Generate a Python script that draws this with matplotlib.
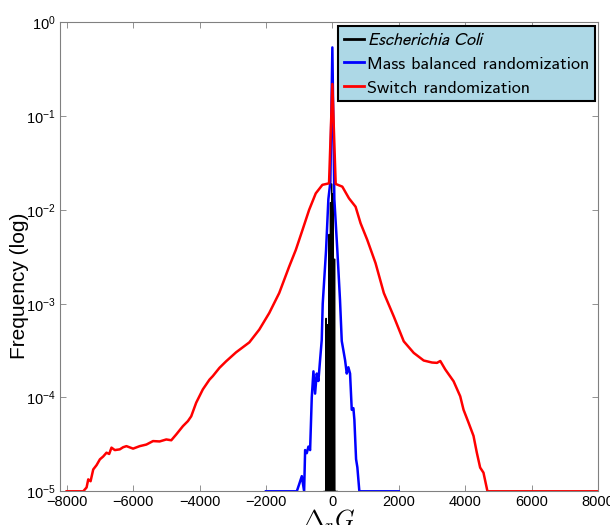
import numpy as np
import matplotlib
matplotlib.use("Agg")
import matplotlib.pyplot as plt
from matplotlib.ticker import LogLocator, NullLocator

plt.rcParams['font.family'] = ['Liberation Sans', 'DejaVu Sans']
plt.rcParams['mathtext.fontset'] = 'custom'
plt.rcParams['mathtext.rm'] = 'Liberation Sans'
plt.rcParams['mathtext.it'] = 'Liberation Sans:italic'
plt.rcParams['axes.unicode_minus'] = True

# ---------------------------------------------------
# DATA
# ---------------------------------------------------

# Switch randomization (red)
switch_x = [-8000, -7500, -7400, -7350, -7280, -7200, -7100, -7000, -6900,
            -6800, -6720, -6650, -6550, -6400, -6300, -6200, -6000, -5800,
            -5600, -5400, -5200, -5000, -4850, -4700, -4500, -4350, -4250,
            -4100, -3900, -3700, -3600, -3400, -3200, -2900, -2500, -2200,
            -1900, -1600, -1300, -1100, -900, -700, -500, -300, -100, 0,
            100, 300, 500, 700, 850, 1050, 1300, 1550, 1850, 2150, 2450,
            2750, 3000, 3150, 3250, 3400, 3650, 3850, 3950, 4100, 4250,
            4350, 4450, 4550, 4670, 8000]
switch_y = [1e-5, 1e-5, 1.1e-5, 1.34e-5, 1.28e-5, 1.71e-5, 1.9e-5, 2.19e-5,
            2.35e-5, 2.58e-5, 2.5e-5, 2.92e-5, 2.75e-5, 2.80e-5, 2.95e-5,
            3.03e-5, 2.85e-5, 3.03e-5, 3.15e-5, 3.43e-5, 3.4e-5, 3.57e-5,
            3.5e-5, 4.04e-5, 4.95e-5, 5.6e-5, 6.3e-5, 8.8e-5, 1.22e-4,
            1.55e-4, 1.69e-4, 2.07e-4, 2.43e-4, 3.03e-4, 3.87e-4, 5.3e-4,
            7.96e-4, 1.30e-3, 2.49e-3, 3.75e-3, 6.1e-3, 1.0e-2, 1.5e-2,
            1.85e-2, 1.92e-2, 0.22, 1.89e-2, 1.77e-2, 1.33e-2, 1.08e-2,
            7.2e-3, 4.8e-3, 2.71e-3, 1.30e-3, 7.3e-4, 3.97e-4, 2.99e-4,
            2.48e-4, 2.36e-4, 2.34e-4, 2.45e-4, 1.99e-4, 1.49e-4, 1.03e-4,
            7.4e-5, 5.4e-5, 3.9e-5, 2.58e-5, 1.79e-5, 1.58e-5, 1e-5, 1e-5]

# Mass balanced randomization (blue)
mass_x = [-2000, -1070, -995, -920, -850, -820, -770, -720, -670, -620,
          -570, -520, -470, -420, -370, -320, -290, -190, -120, -60, 0,
          60, 150, 230, 283, 331, 383, 434, 482, 533, 584, 633, 663, 714,
          753, 813, 2000]
mass_y = [1e-5, 1e-5, 1.2e-5, 1.45e-5, 1e-5, 2.75e-5, 2.55e-5, 3.0e-5,
          2.75e-5, 1.0e-4, 1.9e-4, 1.1e-4, 1.8e-4, 1.5e-4, 2.5e-4, 4.1e-4,
          1.0e-3, 3.7e-3, 1.3e-2, 2.0e-2, 0.54, 1.3e-2, 3.7e-3, 1.1e-3,
          4.0e-4, 3.2e-4, 2.5e-4, 1.8e-4, 2.1e-4, 1.8e-4, 7.4e-5, 7.7e-5,
          5.8e-5, 2.2e-5, 1.8e-5, 1e-5, 1e-5]

# Escherichia Coli (black): isolated narrow spikes
ecoli_x = [-250, -200, -190, -180, -160, -150, -140, -110, -100, -90,
           -70, -60, -50, -30, -20, -10, 10, 20, 30, 60, 70, 80, 90, 150]
ecoli_y = [1e-5, 1e-5, 7e-4, 1e-5, 1e-5, 6e-4, 1e-5, 1e-5, 5.5e-3, 1e-5,
           1e-5, 1.2e-2, 1e-5, 1e-5, 1.9e-2, 1e-5, 1e-5, 1.5e-2, 1e-5,
           1e-5, 3e-3, 1e-5, 1e-5, 1e-5]

# ---------------------------------------------------
# PLOT
# ---------------------------------------------------

fig = plt.figure(figsize=(6.10, 5.25), dpi=100)
ax = fig.add_axes([0.0984, 0.0642, 0.8820, 0.8933])

ax.semilogy(ecoli_x, ecoli_y, color='black', lw=0.8,
            label=r'$Escherichia\ Coli$')
ax.semilogy(mass_x, mass_y, color='blue', lw=1.8,
            label='Mass balanced randomization')
ax.semilogy(switch_x, switch_y, color='red', lw=1.8,
            label='Switch randomization')

ax.set_xlim(-8200, 8000)
ax.set_ylim(1e-5, 1)
ax.set_xticks(np.arange(-8000, 8001, 2000))
ax.yaxis.set_major_locator(LogLocator(base=10, numticks=10))
ax.yaxis.set_minor_locator(NullLocator())

ax.tick_params(direction='in', top=True, right=True, length=4,
               width=0.6, color='#808080', labelsize=10.5, pad=3)
for s in ax.spines.values():
    s.set_color('#808080')
    s.set_linewidth(0.8)

ax.set_ylabel('Frequency (log)', fontsize=15)
ax.yaxis.set_label_coords(-0.058, 0.438)
ax.set_xlabel(r'$\Delta_r G$', fontsize=18, math_fontfamily='cm',
              labelpad=-1)

# Legend
leg = ax.legend(loc='upper right', fancybox=False, framealpha=1,
                facecolor='#ADD8E6', edgecolor='black',
                prop={'family': 'cmss10', 'size': 13},
                handlelength=1.1, handletextpad=0.2, borderpad=0.3,
                labelspacing=0.45, borderaxespad=0.18)
leg.get_frame().set_linewidth(1.5)
leg.get_texts()[0].set_math_fontfamily('stixsans')
for h in leg.get_lines():
    h.set_linewidth(2)

fig.savefig('out.png', dpi=100)
